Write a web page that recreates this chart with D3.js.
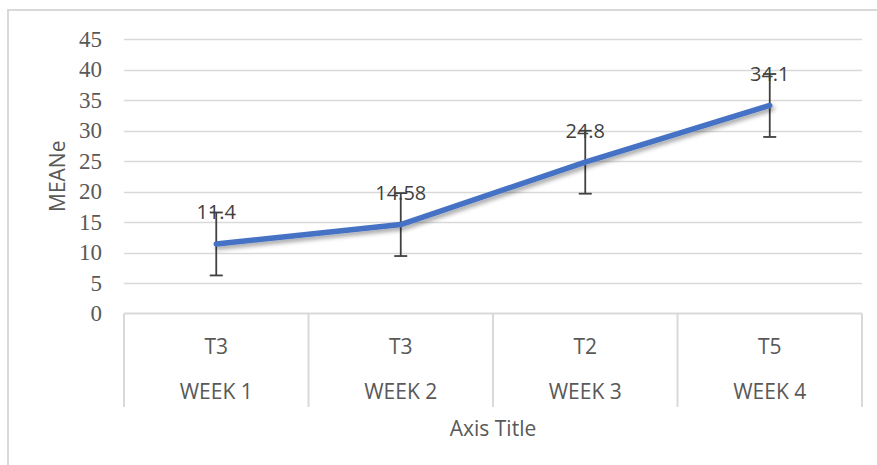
<!DOCTYPE html>
<html>
<head>
<meta charset="utf-8">
<script src="https://cdn.jsdelivr.net/npm/d3@7"></script>
<style>
  html, body { margin: 0; padding: 0; background: #fff; }
  svg { display: block; }
</style>
</head>
<body>
<svg id="chart" width="877" height="465"></svg>
<script>
// ---- data ----
const weeks = ["WEEK 1", "WEEK 2", "WEEK 3", "WEEK 4"];
const treatments = ["T3", "T3", "T2", "T5"];
const means = [11.4, 14.58, 24.8, 34.1];
const meanLabels = ["11.4", "14.58", "24.8", "34.1"];
const errors = [5.16, 5.16, 5.16, 5.16];
const yTicks = [0, 5, 10, 15, 20, 25, 30, 35, 40, 45];
const yTitle = "MEANe";
const xTitle = "Axis Title";

// ---- layout ----
const svg = d3.select("#chart");
const plot = { left: 124, right: 862, top: 39, bottom: 313.5 };
const catBottom = 407;

const x = d3.scaleBand().domain(d3.range(weeks.length)).range([plot.left, plot.right]).padding(0);
const y = d3.scaleLinear().domain([0, 45]).range([plot.bottom, plot.top]);
const cx = i => x(i) + x.bandwidth() / 2;

const defs = svg.append("defs");
const f = defs.append("filter").attr("id", "shadow").attr("x", "-10%").attr("y", "-30%").attr("width", "130%").attr("height", "180%");
f.append("feDropShadow").attr("dx", 2).attr("dy", 3).attr("stdDeviation", 2)
  .attr("flood-color", "#000").attr("flood-opacity", 0.35);

// chart border (left and top visible)
svg.append("path")
  .attr("d", "M8,465 L8,10 L877,10")
  .attr("fill", "none").attr("stroke", "#d9d9d9").attr("stroke-width", 2);

// gridlines
svg.append("g").selectAll("line").data(yTicks.filter(d => d > 0)).join("line")
  .attr("x1", plot.left).attr("x2", plot.right)
  .attr("y1", d => Math.round(y(d)) + 0.5).attr("y2", d => Math.round(y(d)) + 0.5)
  .attr("stroke", "#d9d9d9").attr("stroke-width", 1.5);

// y tick labels
svg.append("g").selectAll("text").data(yTicks).join("text")
  .attr("x", 102).attr("y", d => y(d))
  .attr("text-anchor", "end").attr("dominant-baseline", "central")
  .attr("font-family", "Liberation Serif, serif")
  .attr("font-size", 23).attr("fill", "#595959")
  .text(d => d);

// category axis: baseline + separators
svg.append("line")
  .attr("x1", plot.left).attr("x2", plot.right)
  .attr("y1", plot.bottom).attr("y2", plot.bottom)
  .attr("stroke", "#d9d9d9").attr("stroke-width", 2);
const seps = d3.range(weeks.length + 1).map(i => i < weeks.length ? x(i) : x(weeks.length - 1) + x.bandwidth());
svg.append("g").selectAll("line").data(seps).join("line")
  .attr("x1", d => d).attr("x2", d => d)
  .attr("y1", plot.bottom).attr("y2", catBottom)
  .attr("stroke", "#d9d9d9").attr("stroke-width", 2);

const labelFont = "'Open Sans', 'Noto Sans', sans-serif";
svg.append("g").selectAll("text").data(treatments).join("text")
  .attr("x", (d, i) => cx(i)).attr("y", 346)
  .attr("text-anchor", "middle").attr("dominant-baseline", "central")
  .attr("font-family", labelFont).attr("font-size", 21).attr("fill", "#595959")
  .text(d => d);
svg.append("g").selectAll("text").data(weeks).join("text")
  .attr("x", (d, i) => cx(i)).attr("y", 391)
  .attr("text-anchor", "middle").attr("dominant-baseline", "central")
  .attr("font-family", labelFont).attr("font-size", 21).attr("fill", "#595959")
  .text(d => d);

// axis titles
svg.append("text")
  .attr("x", (plot.left + plot.right) / 2).attr("y", 428)
  .attr("text-anchor", "middle").attr("dominant-baseline", "central")
  .attr("font-family", labelFont).attr("font-size", 21).attr("fill", "#595959")
  .text(xTitle);
svg.append("text")
  .attr("transform", `translate(57,${(plot.top + plot.bottom) / 2}) rotate(-90)`)
  .attr("text-anchor", "middle").attr("dominant-baseline", "central")
  .attr("font-family", labelFont).attr("font-size", 21).attr("fill", "#595959")
  .text(yTitle);

// error bars
const eb = svg.append("g").attr("stroke", "#404040").attr("stroke-width", 1.8);
means.forEach((m, i) => {
  const xc = cx(i), top = y(m + errors[i]), bot = y(m - errors[i]);
  eb.append("line").attr("x1", xc).attr("x2", xc).attr("y1", top).attr("y2", bot);
  eb.append("line").attr("x1", xc - 6.5).attr("x2", xc + 6.5).attr("y1", top).attr("y2", top);
  eb.append("line").attr("x1", xc - 6.5).attr("x2", xc + 6.5).attr("y1", bot).attr("y2", bot);
});

// line
const line = d3.line().x((d, i) => cx(i)).y(d => y(d));
svg.append("path")
  .datum(means)
  .attr("d", line)
  .attr("fill", "none").attr("stroke", "#4472C4").attr("stroke-width", 5.5)
  .attr("stroke-linecap", "round").attr("stroke-linejoin", "round")
  .attr("filter", "url(#shadow)");

// data labels
svg.append("g").selectAll("text").data(meanLabels).join("text")
  .attr("x", (d, i) => cx(i)).attr("y", (d, i) => y(means[i]) - 32)
  .attr("text-anchor", "middle").attr("dominant-baseline", "central")
  .attr("font-family", labelFont).attr("font-size", 20).attr("fill", "#404040")
  .text(d => d);
</script>
</body>
</html>
